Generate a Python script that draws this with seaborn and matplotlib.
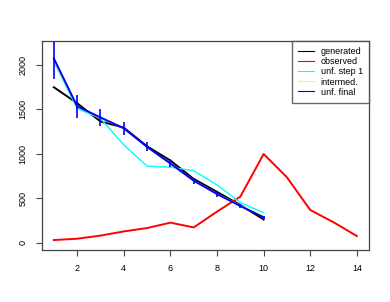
import numpy as np
import pandas as pd
import matplotlib
matplotlib.use("Agg")
import matplotlib.pyplot as plt
import seaborn as sns

x_gen = [1, 2, 3, 4, 5, 6, 7, 8, 9, 10]
generated = [1750, 1570, 1365, 1295, 1085, 925, 718, 572, 424, 262]
x_obs = [1, 2, 3, 4, 5, 6, 7, 8, 9, 10, 11, 12, 13, 14]
observed = [30, 45, 80, 127, 165, 226, 172, 350, 518, 998, 736, 368, 230, 75]
unf_step1 = [2040, 1510, 1400, 1100, 862, 850, 810, 650, 452, 338]
intermed = [2060, 1530, 1405, 1285, 1075, 890, 700, 552, 418, 300]
unf_final = [2075, 1535, 1410, 1288, 1078, 892, 698, 548, 413, 286]
unf_err = [235, 130, 95, 75, 50, 45, 35, 30, 25, 20]

plt.rcParams['font.family'] = ['Liberation Sans', 'DejaVu Sans']

fig = plt.figure(figsize=(3.9, 3.02), dpi=100)
ax = fig.add_axes([41.7/390, 52/302, (369-41.7)/390, (250-41)/302])

lw = 1.4
sns.lineplot(x=x_gen, y=generated, color='black', lw=lw, ax=ax, label='generated')
sns.lineplot(x=x_obs, y=observed, color='red', lw=lw, ax=ax, label='observed')
sns.lineplot(x=x_gen, y=unf_step1, color='cyan', lw=1.0, ax=ax, label='unf. step 1')
sns.lineplot(x=x_gen, y=intermed, color='yellow', lw=1.0, ax=ax, label='intermed.')
sns.lineplot(x=x_gen, y=unf_final, color='blue', lw=lw, ax=ax, label='unf. final')
ax.vlines(x_gen, np.array(unf_final) - np.array(unf_err), np.array(unf_final) + np.array(unf_err),
          color='blue', lw=1.2)

ax.set_xlim(0.48, 14.52)
ax.set_ylim(-82, 2270)
ax.set_xticks([2, 4, 6, 8, 10, 12, 14])
ax.set_yticks([0, 500, 1000, 1500, 2000])
for s in ax.spines.values():
    s.set_color('#444444')
    s.set_linewidth(0.9)
ax.tick_params(direction='out', length=4, width=0.8, color='#444444', labelsize=6.5, pad=6)
for lab in ax.get_yticklabels():
    lab.set_rotation(90)
    lab.set_va('center')

leg = ax.legend(loc='upper right', fontsize=6.5, frameon=True, fancybox=False,
                borderaxespad=0, handlelength=1.7, handletextpad=0.75,
                labelspacing=0.12, borderpad=0.7)
leg.get_frame().set_edgecolor('#444444')
leg.get_frame().set_linewidth(1.0)
for h in leg.get_lines():
    h.set_linewidth(0.8)

fig.savefig('out.png', dpi=100)
